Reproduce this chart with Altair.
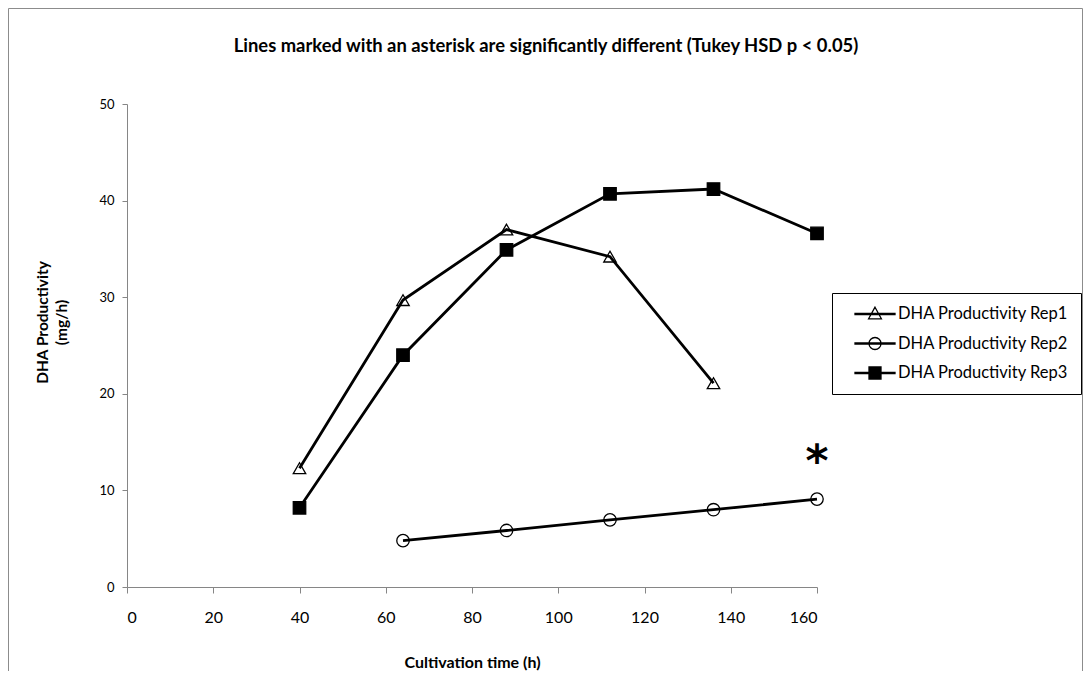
import altair as alt
import pandas as pd

# ---- data ----
series_names = ["DHA Productivity Rep1", "DHA Productivity Rep2", "DHA Productivity Rep3"]
times = [40, 64, 88, 112, 136, 160]
rep1 = [12.3, 29.7, 37.0, 34.2, 21.1, None]
rep2 = [None, 4.8, 5.85, 6.95, 8.0, 9.1]
rep3 = [8.2, 24.0, 34.9, 40.7, 41.2, 36.6]

x_ticks = [0, 20, 40, 60, 80, 100, 120, 140, 160]
y_ticks = [0, 10, 20, 30, 40, 50]

asterisk_x = [160]
asterisk_y = [13.9]
asterisk_text = ["*"]

title_text = "Lines marked with an asterisk are significantly different (Tukey HSD p < 0.05)"
x_title = "Cultivation time (h)"
y_title = ["DHA Productivity", "(mg/h)"]

rows = []
for name, vals in zip(series_names, [rep1, rep2, rep3]):
    for t, v in zip(times, vals):
        if v is not None:
            rows.append({"series": name, "time": t, "value": v})
df = pd.DataFrame(rows)
ast_df = pd.DataFrame({"x": asterisk_x, "y": asterisk_y, "t": asterisk_text})

FONT = "Lato"
W, H = 690, 483
PAD = {"left": 119, "top": 96, "right": 266, "bottom": 84}

xs = alt.Scale(domain=[0, 160], nice=False)
ys = alt.Scale(domain=[0, 50], nice=False)

x_enc = alt.X("time:Q", scale=xs, axis=alt.Axis(
    values=x_ticks, title=x_title, grid=False, domainColor="#868686", tickColor="#868686",
    tickSize=6, labelFont=FONT, labelFontSize=16, labelColor="black", labelPadding=16,
    titleFont=FONT, titleFontSize=16, titleFontWeight="bold", titleColor="black",
    titleX=W / 2, titleY=75, titleBaseline="middle", titleAnchor="middle"))
y_enc = alt.Y("value:Q", scale=ys, axis=alt.Axis(
    values=y_ticks, title=y_title, grid=False, domainColor="#868686", tickColor="#868686",
    tickSize=5, labelFont=FONT, labelFontSize=13, labelColor="black", labelPadding=8,
    titleFont=FONT, titleFontSize=15.5, titleFontWeight="bold", titleColor="black",
    titleAngle=270, titleX=-85, titleY=218, titleBaseline="middle", titleAlign="center",
    titleLineHeight=19))

lines = alt.Chart(df).mark_line(color="black", strokeWidth=2.8).encode(
    x=x_enc, y=y_enc, detail="series:N")

points = alt.Chart(df).mark_point(filled=True, stroke="black", strokeWidth=1.3, opacity=1, size=155).encode(
    x="time:Q", y="value:Q",
    shape=alt.Shape("series:N", scale=alt.Scale(domain=series_names,
                                                range=["triangle-up", "circle", "square"]), legend=None),
    fill=alt.Fill("series:N", scale=alt.Scale(domain=series_names,
                                              range=["transparent", "transparent", "black"]), legend=None),
)

# legend symbols: a short line with the marker on it (unit = 8 px for symbolSize 256)
legend_paths = [
    "M0.25,-0.06H5.25V0.06H0.25Z M2.75,-0.85L3.55,0.6L1.95,0.6Z",
    "M0.25,-0.06H5.25V0.06H0.25Z M3.5,0A0.75,0.75 0 1,1 2,0A0.75,0.75 0 1,1 3.5,0Z",
    "M0.25,-0.06H5.25V0.06H0.25Z M2.0,-0.75H3.5V0.75H2.0Z",
]
leg = alt.Legend(title=None, orient="none", legendX=705, legendY=189, strokeColor="black",
                 padding=12, rowPadding=11.5, symbolSize=256, symbolStrokeColor="black",
                 symbolStrokeWidth=1.3, symbolOpacity=1, labelFont=FONT, labelFontSize=16.5,
                 labelColor="black", labelOffset=36, labelLimit=300, fillColor="white")
legend_layer = alt.Chart(df).mark_point(filled=True, opacity=0, strokeWidth=1.3).encode(
    x="time:Q", y="value:Q",
    shape=alt.Shape("series:N", scale=alt.Scale(domain=series_names, range=legend_paths), legend=leg),
    fill=alt.Fill("series:N", scale=alt.Scale(domain=series_names,
                                              range=["transparent", "transparent", "black"]), legend=leg),
    stroke=alt.Stroke("series:N", scale=alt.Scale(domain=series_names,
                                                  range=["black", "black", "black"]), legend=leg),
)

asterisk = alt.Chart(ast_df).mark_text(font="DejaVu Sans", fontSize=44, fontWeight="bold",
                                       color="black", baseline="middle", align="center", dy=10).encode(
    x="x:Q", y="y:Q", text="t:N")

border = alt.Chart(alt.Data(values=[{}])).mark_rect(fill="transparent", stroke="#8c8c8c", strokeWidth=1).encode(
    x=alt.value(-118.5), x2=alt.value(W + 265.5), y=alt.value(-95.5), y2=alt.value(H + 120))

chart = alt.layer(border, lines, points, legend_layer, asterisk).resolve_scale(
    shape="independent", fill="independent", stroke="independent"
).properties(
    width=W, height=H,
    padding=PAD,
    background="white",
    autosize=alt.AutoSizeParams(type="none"),
    title=alt.Title(title_text, font=FONT, fontSize=18.4, fontWeight="bold", color="black",
                    anchor="middle", dx=74, offset=-62, baseline="alphabetic"),
).configure_view(stroke=None)

chart.save("out.html", embed_options={"renderer": "svg", "actions": False})
